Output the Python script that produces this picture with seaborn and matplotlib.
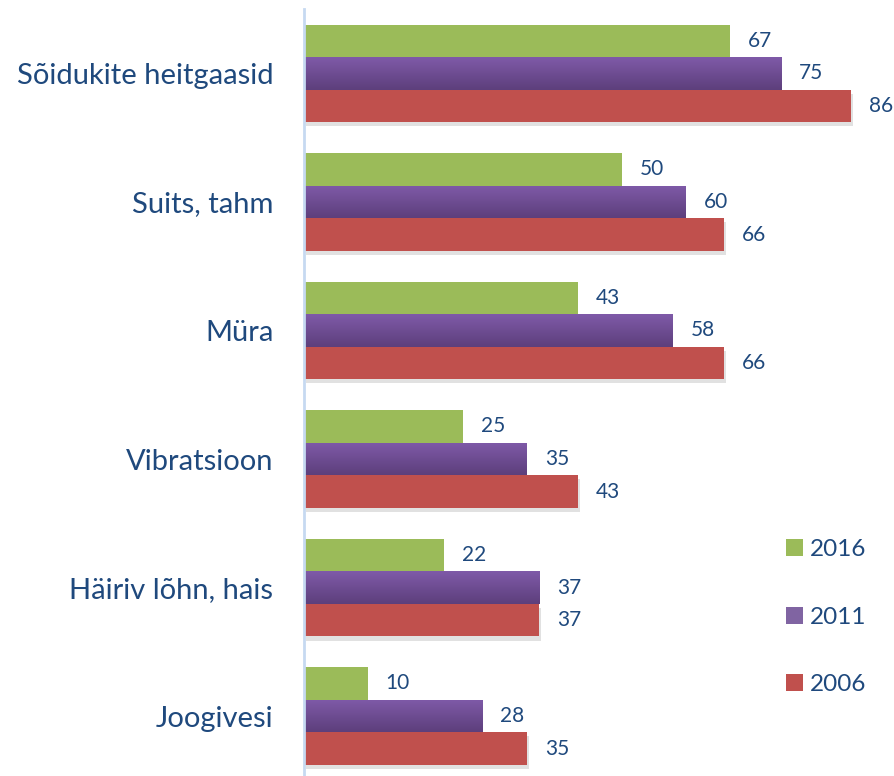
import numpy as np
import pandas as pd
import matplotlib
matplotlib.use("Agg")
import matplotlib.pyplot as plt
import matplotlib.patheffects as pe
from matplotlib.colors import LinearSegmentedColormap
import seaborn as sns

categories = ["Sõidukite heitgaasid", "Suits, tahm", "Müra", "Vibratsioon",
              "Häiriv lõhn, hais", "Joogivesi"]
years = ["2016", "2011", "2006"]
v2016 = [67, 50, 43, 25, 22, 10]
v2011 = [75, 60, 58, 35, 37, 28]
v2006 = [86, 66, 66, 43, 37, 35]

df = pd.DataFrame({
    "cat": categories * 3,
    "year": ["2016"] * 6 + ["2011"] * 6 + ["2006"] * 6,
    "val": v2016 + v2011 + v2006,
})

sns.set_theme(style="white")
plt.rcParams["font.family"] = ["Lato", "DejaVu Sans"]
TXT = "#1F497D"
colors = {"2016": "#9BBB59", "2011": "#8064A2", "2006": "#C0504D"}

fig = plt.figure(figsize=(8.95, 7.76), dpi=100)
ax = fig.add_axes([304 / 895, -0.0055, 591 / 895, 0.9936])

sns.barplot(data=df, y="cat", x="val", hue="year", hue_order=years,
            palette=colors, order=categories, width=0.76, orient="h",
            saturation=1, ax=ax, legend=True, linewidth=0)

XMAX = 92.9
ax.set_xlim(0, XMAX)
ax.set_ylim(5.5, -0.5)

# gradient on purple bars, soft shadow on red bars
grad = np.linspace(0, 1, 64).reshape(-1, 1)
cmap = LinearSegmentedColormap.from_list("pg", ["#7F5AA8", "#5D3F7C"])
for cont, yr in zip(ax.containers, years):
    for p in cont:
        if yr == "2011":
            x0, y0 = p.get_x(), p.get_y()
            w, h = p.get_width(), p.get_height()
            im = ax.imshow(grad, cmap=cmap, aspect="auto",
                           extent=(x0, x0 + w, y0 + h, y0), origin="upper",
                           zorder=p.get_zorder() + 0.1)
            im.set_clip_path(p)
        if yr == "2006":
            p.set_path_effects([pe.SimplePatchShadow(offset=(1.5, -3), shadow_rgbFace="#777777", alpha=0.22),
                                pe.Normal()])
    ax.bar_label(cont, padding=13, fontsize=15, color=TXT)

ax.set_xlim(0, XMAX)
ax.set_ylim(5.5, -0.5)
ax.set_aspect("auto")

ax.set_xlabel("")
ax.set_ylabel("")
ax.set_xticks([])
ax.tick_params(axis="y", length=0, pad=22, labelsize=21, labelcolor=TXT)
for s in ["top", "right", "bottom"]:
    ax.spines[s].set_visible(False)
ax.spines["left"].set_color("#C6D9F1")
ax.spines["left"].set_linewidth(2)

leg = ax.legend(loc="upper left", bbox_to_anchor=(472 / 591, 0.325),
                frameon=False, fontsize=17.5, labelcolor=TXT,
                handlelength=0.7, handleheight=0.7, handletextpad=0.3,
                labelspacing=1.9, borderaxespad=0)

fig.savefig("out.png", dpi=100)
